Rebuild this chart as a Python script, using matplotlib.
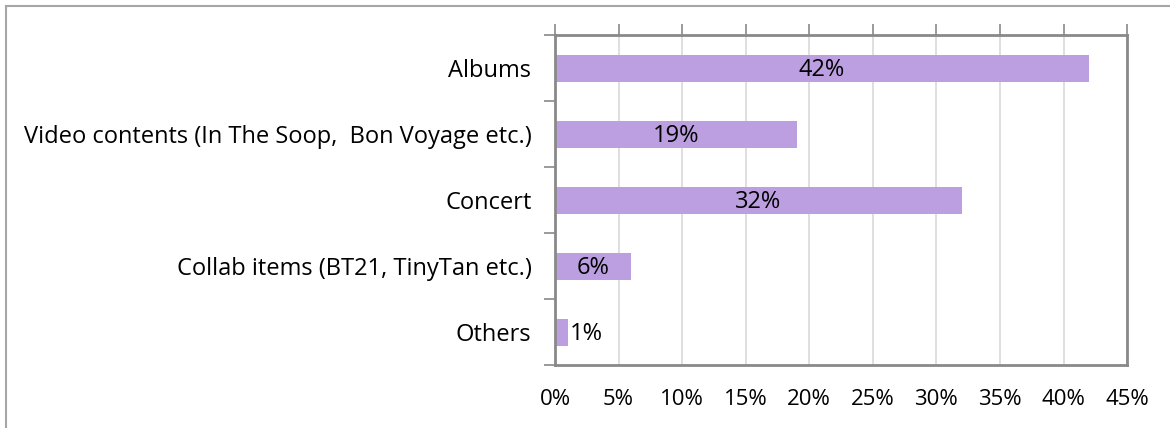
import numpy as np
import matplotlib.pyplot as plt
from matplotlib.ticker import MultipleLocator, FuncFormatter

plt.rcParams['font.family'] = ['Open Sans', 'DejaVu Sans']

# categories top to bottom and their share in percent
categories = ['Albums',
              'Video contents (In The Soop,  Bon Voyage etc.)',
              'Concert',
              'Collab items (BT21, TinyTan etc.)',
              'Others']
shares = [42, 19, 32, 6, 1]

barColor  = '#BC9FE0'
spineGray = '#898989'
gridGray  = '#D9D9D9'

fig = plt.figure(figsize=(11.7, 4.28), dpi=100)
ax = fig.add_axes([0.4744, 0.147, 0.4889, 0.771])

ypos = np.arange(len(categories))
ax.barh(ypos, shares, height=0.41, color=barColor, zorder=2)
ax.set_ylim(len(categories) - 0.5, -0.5)
ax.set_xlim(0, 45)

# value labels: centred inside the bar, outside for the tiny one
for y, v in zip(ypos, shares):
    if v >= 5:
        ax.text(v / 2, y + 0.03, f'{v}%', ha='center', va='center', fontsize=17, zorder=3)
    else:
        ax.text(v + 0.2, y + 0.03, f'{v}%', ha='left', va='center', fontsize=17, zorder=3)

# x axis: gridlines, ticks on the top spine, labels at the bottom
ax.xaxis.set_major_locator(MultipleLocator(5))
ax.xaxis.set_major_formatter(FuncFormatter(lambda x, pos: f'{x:.0f}%'))
ax.grid(axis='x', color=gridGray, linewidth=1.2, zorder=0)
ax.tick_params(axis='x', which='both', top=True, bottom=False,
               labeltop=False, labelbottom=True, direction='out',
               length=8, width=1.2, color=spineGray, labelsize=16, pad=9)

# y axis: labels at the categories, ticks at the category boundaries
ax.set_yticks(ypos)
ax.set_yticklabels(categories)
ax.set_yticks(np.arange(-0.5, len(categories) + 0.5, 1), minor=True)
ax.tick_params(axis='y', which='major', length=0, labelsize=17, pad=17)
ax.tick_params(axis='y', which='minor', length=8, width=1.2, color=spineGray)

for s in ax.spines.values():
    s.set_color(spineGray)
    s.set_linewidth(2)

# outer chart border (top and left edge)
fig.add_artist(plt.Line2D([6 / 1170, 1], [1 - 6 / 428, 1 - 6 / 428],
                          color='#A6A6A6', linewidth=1.5))
fig.add_artist(plt.Line2D([6 / 1170, 6 / 1170], [0, 1 - 6 / 428],
                          color='#A6A6A6', linewidth=1.5))

fig.savefig('out.png', dpi=100)
